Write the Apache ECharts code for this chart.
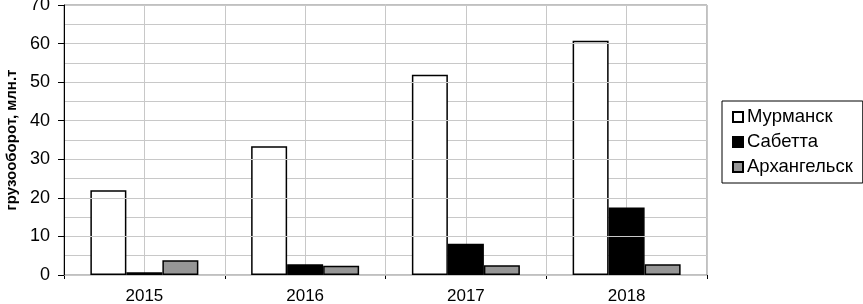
<!DOCTYPE html>
<html><head><meta charset="utf-8">
<script src="https://cdn.jsdelivr.net/npm/echarts@6/dist/echarts.min.js"></script>
<style>html,body{margin:0;padding:0;background:#fff}#c{width:863px;height:304px}</style>
</head><body><div id="c"></div>
<script>
const categories = ['2015', '2016', '2017', '2018'];
const murmansk = [22.0, 33.4, 51.9, 60.7];
const sabetta = [0.7, 2.8, 8.1, 17.5];
const arkhangelsk = [3.8, 2.4, 2.5, 2.8];
const seriesNames = ['Мурманск', 'Сабетта', 'Архангельск'];
const colors = ['#ffffff', '#000000', '#969696'];
const yTitle = 'грузооборот, млн.т';

const chart = echarts.init(document.getElementById('c'), null, {renderer: 'canvas'});
const font = 'Liberation Sans, Arial, sans-serif';
const data = [murmansk, sabetta, arkhangelsk];
chart.setOption({
  animation: false,
  backgroundColor: '#fff',
  textStyle: {fontFamily: font},
  grid: {left: 64, right: 156, top: 5, bottom: 29, show: true, borderColor: '#808080', borderWidth: 1, backgroundColor: '#fff', containLabel: false, outerBoundsMode: 'none'},
  legend: {
    orient: 'vertical', left: 722, top: 101,
    padding: [6, 10, 6, 10],
    borderColor: '#000', borderWidth: 1,
    itemWidth: 10, itemHeight: 10, itemGap: 5,
    icon: 'rect',
    textStyle: {fontSize: 18.5, color: '#000', fontFamily: font, padding: [0, 0, 0, -1], lineHeight: 20},
    data: seriesNames
  },
  xAxis: [{
    type: 'category', data: categories, boundaryGap: true,
    axisLine: {lineStyle: {color: '#000', width: 1}},
    axisTick: {show: true, length: 4, lineStyle: {color: '#000'}},
    axisLabel: {fontSize: 17, color: '#000', margin: 13, fontFamily: font},
    splitLine: {show: true, lineStyle: {color: '#c8c8c8'}}
  }, {
    type: 'value', min: 0, max: 8, interval: 1, position: 'top',
    axisLine: {show: false}, axisTick: {show: false}, axisLabel: {show: false},
    splitLine: {show: true, lineStyle: {color: '#c8c8c8'}}
  }],
  yAxis: [{
    type: 'value', min: 0, max: 70, interval: 10,
    name: yTitle, nameLocation: 'middle', nameGap: 42, nameRotate: 90,
    nameTextStyle: {fontSize: 15, fontWeight: 'bold', color: '#000', fontFamily: font},
    axisLine: {show: true, lineStyle: {color: '#000'}},
    axisTick: {show: true, length: 6, lineStyle: {color: '#000'}},
    axisLabel: {fontSize: 18, color: '#000', margin: 14, fontFamily: font},
    splitLine: {show: true, lineStyle: {color: '#c8c8c8'}},
    z: 3
  }, {
    type: 'value', min: 0, max: 70, interval: 5, position: 'right',
    axisLine: {show: false}, axisTick: {show: false}, axisLabel: {show: false},
    splitLine: {show: true, lineStyle: {color: '#c8c8c8'}}
  }],
  series: seriesNames.map((n, i) => ({
    name: n, type: 'bar', xAxisIndex: 0, yAxisIndex: 0, data: data[i],
    barWidth: 36, barGap: '0%',
    itemStyle: {color: colors[i], borderColor: '#000', borderWidth: 1.5}
  }))
});
</script></body></html>
